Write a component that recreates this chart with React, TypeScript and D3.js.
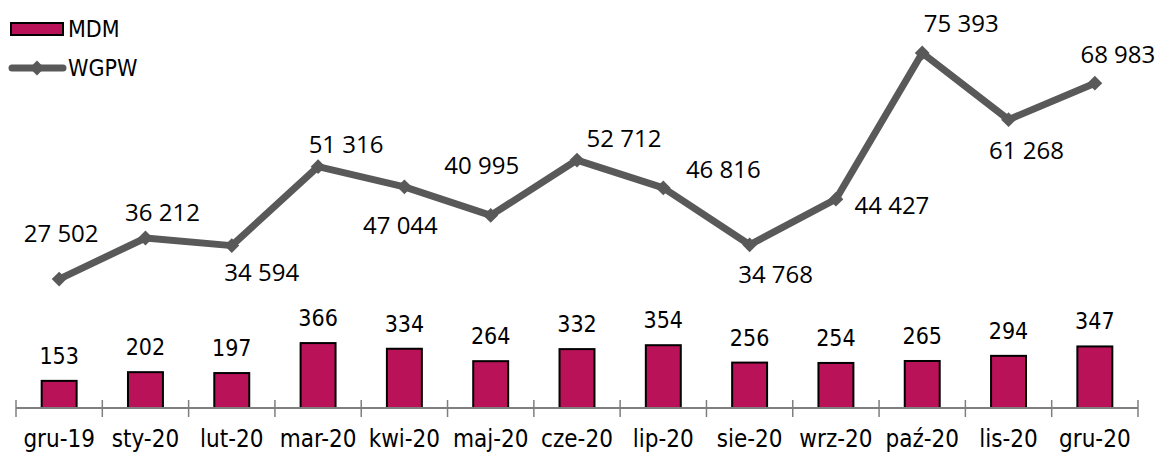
import { useEffect, useRef } from "react";
import * as d3 from "d3";

const categories = [
  "gru-19", "sty-20", "lut-20", "mar-20", "kwi-20", "maj-20", "cze-20",
  "lip-20", "sie-20", "wrz-20", "paź-20", "lis-20", "gru-20",
];
const mdmValues = [153, 202, 197, 366, 334, 264, 332, 354, 256, 254, 265, 294, 347];
const wgpwValues = [
  27502, 36212, 34594, 51316, 47044, 40995, 52712, 46816, 34768, 44427, 75393, 61268, 68983,
];
// manual label placement for the line series (dx to label centre, dy to baseline)
const wgpwLabelOffsets: [number, number][] = [
  [2, -37], [17, -17], [30, 35], [28, -14], [-4, 47], [-9, -41], [47, -13],
  [60, -10], [26, 38], [56, 15], [39, -21], [18, 39], [23, -20],
];

const BAR_COLOR = "#BA1259";
const LINE_COLOR = "#595959";
const AXIS_COLOR = "#7F7F7F";
const FONT = "'DejaVu Sans Condensed', 'DejaVu Sans', sans-serif";
const LINE_FONT = "'Open Sans', sans-serif";

const fmt = (v: number) => d3.format(",")(v).replace(/,/g, " ");

export default function App() {
  const ref = useRef<SVGSVGElement>(null);

  useEffect(() => {
    document.body.style.margin = "0";
    if (!ref.current) return;
    const svg = d3.select(ref.current);
    svg.selectAll("*").remove();

    const width = 1160;
    const left = 16;
    const right = 1138;
    const baseY = 408;

    const xSlot = d3.scaleBand<string>().domain(categories).range([left, right]).padding(0);
    const xBar = d3
      .scaleBand<string>()
      .domain(categories)
      .range([left, right])
      .paddingInner(0.595)
      .paddingOuter(0.2975);
    const yBar = d3.scaleLinear().domain([0, 2300]).range([baseY, 0]);
    const yLine = d3.scaleLinear().domain([0, 86600]).range([409, 0]);
    const cx = (c: string) => (xSlot(c) || 0) + xSlot.bandwidth() / 2;

    // bars
    svg
      .append("g")
      .selectAll("rect")
      .data(mdmValues)
      .enter()
      .append("rect")
      .attr("x", (_, i) => xBar(categories[i]) || 0)
      .attr("y", (d) => yBar(d))
      .attr("width", xBar.bandwidth())
      .attr("height", (d) => baseY - yBar(d))
      .attr("fill", BAR_COLOR)
      .attr("stroke", "#000")
      .attr("stroke-width", 2);

    // bar labels
    svg
      .append("g")
      .selectAll("text")
      .data(mdmValues)
      .enter()
      .append("text")
      .attr("x", (_, i) => cx(categories[i]))
      .attr("y", (d) => yBar(d) - 17)
      .attr("text-anchor", "middle")
      .attr("font-family", FONT)
      .attr("font-size", 23)
      .attr("fill", "#000")
      .text((d) => fmt(d));

    // axis
    const axis = svg.append("g");
    axis
      .append("line")
      .attr("x1", left)
      .attr("x2", right)
      .attr("y1", baseY)
      .attr("y2", baseY)
      .attr("stroke", AXIS_COLOR)
      .attr("stroke-width", 2);
    const tickXs = categories.map((c) => xSlot(c) || 0).concat([right]);
    axis
      .selectAll(".tick")
      .data(tickXs)
      .enter()
      .append("line")
      .attr("x1", (d) => d)
      .attr("x2", (d) => d)
      .attr("y1", 400)
      .attr("y2", 417)
      .attr("stroke", AXIS_COLOR)
      .attr("stroke-width", 1.5);
    axis
      .selectAll(".cat")
      .data(categories)
      .enter()
      .append("text")
      .attr("x", (d) => cx(d))
      .attr("y", 447)
      .attr("text-anchor", "middle")
      .attr("font-family", FONT)
      .attr("font-size", 24)
      .attr("fill", "#000")
      .text((d) => d);

    // line
    const line = d3
      .line<number>()
      .x((_, i) => cx(categories[i]))
      .y((d) => yLine(d));
    svg
      .append("path")
      .datum(wgpwValues)
      .attr("d", line)
      .attr("fill", "none")
      .attr("stroke", LINE_COLOR)
      .attr("stroke-width", 7)
      .attr("stroke-linejoin", "round");

    const diamond = d3.symbol(d3.symbolSquare, 110);
    svg
      .append("g")
      .selectAll("path")
      .data(wgpwValues)
      .enter()
      .append("path")
      .attr("d", diamond)
      .attr("transform", (d, i) => `translate(${cx(categories[i])},${yLine(d)}) rotate(45)`)
      .attr("fill", LINE_COLOR);

    svg
      .append("g")
      .selectAll("text")
      .data(wgpwValues)
      .enter()
      .append("text")
      .attr("x", (_, i) => cx(categories[i]) + wgpwLabelOffsets[i][0])
      .attr("y", (d, i) => yLine(d) + wgpwLabelOffsets[i][1])
      .attr("text-anchor", "middle")
      .attr("font-family", LINE_FONT)
      .attr("font-size", 24)
      .attr("fill", "#000")
      .text((d) => fmt(d));

    // legend
    const legend = svg.append("g");
    legend
      .append("rect")
      .attr("x", 11)
      .attr("y", 23)
      .attr("width", 52)
      .attr("height", 12)
      .attr("fill", BAR_COLOR)
      .attr("stroke", "#000")
      .attr("stroke-width", 2);
    legend
      .append("text")
      .attr("x", 68)
      .attr("y", 37)
      .attr("font-family", FONT)
      .attr("font-size", 23)
      .text("MDM");
    legend
      .append("line")
      .attr("x1", 12)
      .attr("x2", 63)
      .attr("y1", 68)
      .attr("y2", 68)
      .attr("stroke", LINE_COLOR)
      .attr("stroke-width", 7)
      .attr("stroke-linecap", "round");
    legend
      .append("path")
      .attr("d", diamond)
      .attr("transform", "translate(37,68) rotate(45)")
      .attr("fill", LINE_COLOR);
    legend
      .append("text")
      .attr("x", 68)
      .attr("y", 76)
      .attr("font-family", FONT)
      .attr("font-size", 23)
      .text("WGPW");

    svg.attr("width", width).attr("height", 454);
  }, []);

  return <svg ref={ref} width={1160} height={454} style={{ display: "block" }} />;
}
